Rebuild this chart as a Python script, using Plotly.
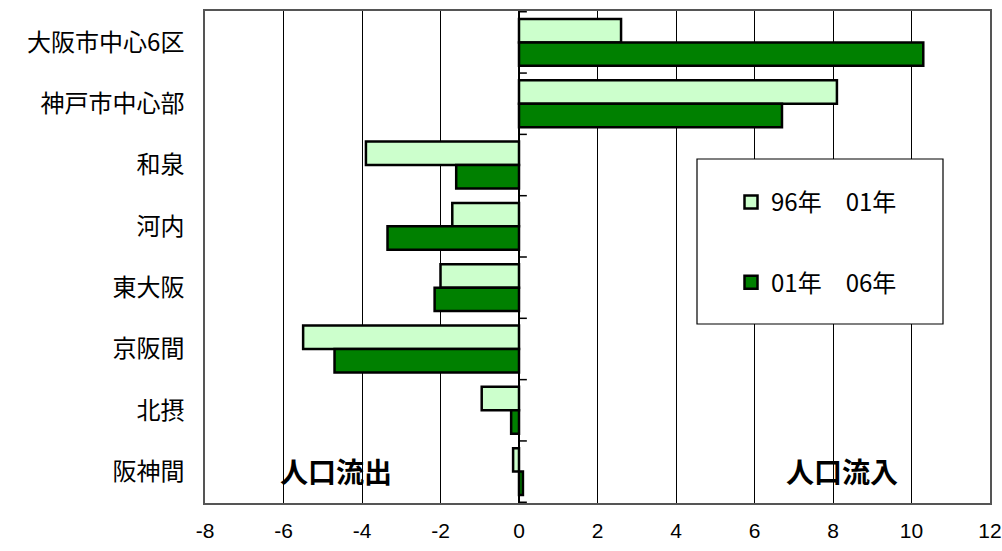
import plotly.graph_objects as go

categories = ["大阪市中心6区", "神戸市中心部", "和泉", "河内", "東大阪", "京阪間", "北摂", "阪神間"]
series_names = ["96年　01年", "01年　06年"]
values_96_01 = [2.6, 8.1, -3.9, -1.7, -2.0, -5.5, -0.95, -0.15]
values_01_06 = [10.3, 6.7, -1.6, -3.35, -2.15, -4.7, -0.2, 0.1]
x_ticks = [-8, -6, -4, -2, 0, 2, 4, 6, 8, 10, 12]
colors = ["#CCFFCC", "#008000"]

JP = "Noto Sans CJK JP, Noto Sans, sans-serif"
NUM = "Liberation Sans Narrow, Arial Narrow, Liberation Sans, Arial, sans-serif"

L, R, T, B = 205, 12, 11, 48
W, H = 1002, 551
PW, PH = W - L - R, H - T - B


def px(x):
    return (x - L) / PW


def py(y):
    return 1 - (y - T) / PH


fig = go.Figure()
for vals, name, col in zip([values_96_01, values_01_06], series_names, colors):
    fig.add_trace(go.Bar(y=categories, x=vals, orientation="h", name=name,
                         marker=dict(color=col, line=dict(color="black", width=2.5)),
                         showlegend=False))
# legend entries (larger square symbols)
for i, (name, col) in enumerate(zip(series_names, colors)):
    fig.add_trace(go.Scatter(x=[None], y=[None], mode="markers", name=name,
                             marker=dict(symbol="square", size=13, color=col,
                                         line=dict(color="black", width=2.5)),
                             legendgroup=str(i), showlegend=True, hoverinfo="skip"))

shapes = []
for i in range(len(categories) + 1):
    shapes.append(dict(type="line", xref="x", yref="y", x0=0, x1=0.2, y0=i - 0.5, y1=i - 0.5,
                       line=dict(color="black", width=1.5), layer="above"))
shapes.append(dict(type="rect", xref="paper", yref="paper", x0=px(697), x1=px(943), y0=py(324), y1=py(159),
                   fillcolor="white", line=dict(color="black", width=1.2), layer="above"))

fig.update_layout(
    width=W, height=H,
    margin=dict(l=L, r=R, t=T, b=B, autoexpand=False),
    paper_bgcolor="white", plot_bgcolor="white",
    barmode="group", bargap=0.235, bargroupgap=0,
    showlegend=True,
    legend=dict(x=px(731), y=py(180), xanchor="left", yanchor="top",
                bgcolor="rgba(0,0,0,0)", borderwidth=0,
                font=dict(family=JP, size=24, color="black"),
                traceorder="grouped", tracegroupgap=46, itemsizing="trace"),
    shapes=shapes,
    annotations=[
        dict(text="<b>人口流出</b>", xref="paper", yref="paper", x=px(336), y=py(471),
             xanchor="center", yanchor="middle",
             showarrow=False, font=dict(family=JP, size=28, color="black")),
        dict(text="<b>人口流入</b>", xref="paper", yref="paper", x=px(842), y=py(471),
             xanchor="center", yanchor="middle",
             showarrow=False, font=dict(family=JP, size=28, color="black")),
    ],
)
fig.update_xaxes(range=[-8, 12], tickvals=x_ticks, ticktext=[str(v) for v in x_ticks],
                 showgrid=True, gridcolor="black", gridwidth=1,
                 zeroline=True, zerolinecolor="black", zerolinewidth=1.5,
                 showline=True, linecolor="#555555", linewidth=1.5, mirror=True,
                 ticks="", tickfont=dict(family=NUM, size=21, color="black"),
                 ticklabelstandoff=8, ticklabeloverflow="allow", automargin=False)
fig.update_yaxes(autorange="reversed", categoryorder="array", categoryarray=categories,
                 type="category", showgrid=False, zeroline=False,
                 showline=True, linecolor="#555555", linewidth=1.5, mirror=True,
                 ticks="", tickfont=dict(family=JP, size=24, color="black"),
                 ticklabelstandoff=14, automargin=False)

fig.write_html("out.html")
